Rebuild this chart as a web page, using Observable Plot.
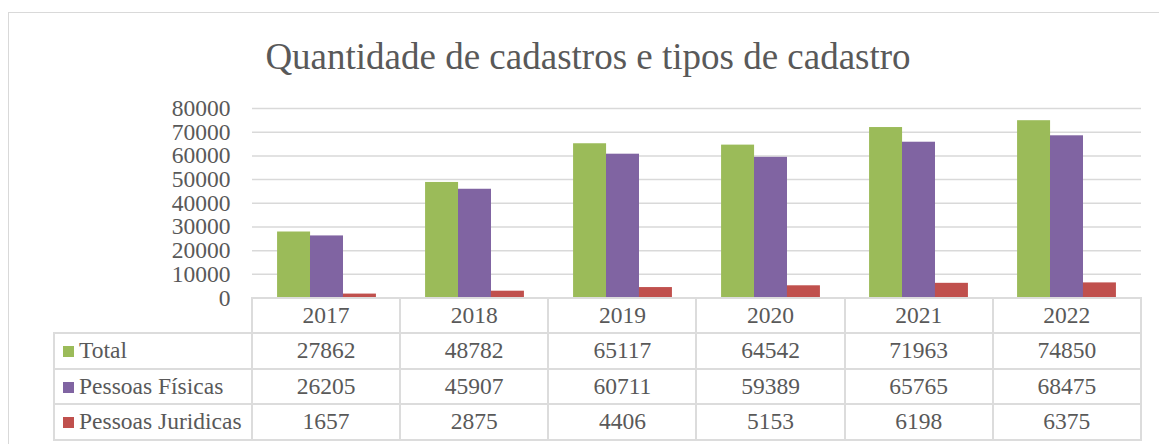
<!DOCTYPE html>
<html><head><meta charset="utf-8">
<script src="https://cdn.jsdelivr.net/npm/d3@7"></script>
<script src="https://cdn.jsdelivr.net/npm/@observablehq/plot@0.6"></script>
<style>
body{margin:0;background:#fff;}
#wrap{position:relative;width:1159px;height:444px;overflow:hidden;font-family:"Liberation Serif","Times New Roman",serif;color:#595959;}
#frame{position:absolute;left:8px;top:12px;width:1160px;height:460px;border:1px solid #d9d9d9;}
#title{position:absolute;left:8px;width:1160px;top:37.5px;line-height:37px;text-align:center;font-size:37px;white-space:nowrap;}
#chart{position:absolute;left:0;top:0;}
#tbl{position:absolute;left:53px;top:297px;border-collapse:collapse;table-layout:fixed;font-size:23.5px;color:#595959;}
#tbl td{border:2px solid #dcdcdc;text-align:center;padding:0;white-space:nowrap;line-height:1;}
#tbl td.lab{text-align:left;padding-left:8px;}
#tbl .sw{display:inline-block;width:11px;height:11px;margin-right:5px;vertical-align:1px;}
</style></head>
<body><div id="wrap"><div id="frame"></div><div id="title">Quantidade de cadastros e tipos de cadastro</div><div id="chart"></div><table id="tbl"></table></div>
<script>
const years = ["2017","2018","2019","2020","2021","2022"];
const total = [27862,48782,65117,64542,71963,74850];
const fisicas = [26205,45907,60711,59389,65765,68475];
const juridicas = [1657,2875,4406,5153,6198,6375];
const seriesNames = ["Total","Pessoas Físicas","Pessoas Juridicas"];
const seriesValues = [total, fisicas, juridicas];
const colors = ["#9BBB59","#8064A2","#C0504D"];
const yTicks = [0,10000,20000,30000,40000,50000,60000,70000,80000];

const rows = years.flatMap((yr,i)=>seriesNames.map((s,j)=>({year:yr, series:s, value:seriesValues[j][i]})));

const marginLeft = 252, marginRight = 18, width = 1159;
const bandStep = (width - marginLeft - marginRight)/years.length;
const barW = bandStep/4.5;
const pIn = 1 - barW/bandStep;

const chart = Plot.plot({
  width, height: 299,
  marginLeft, marginRight, marginTop: 108, marginBottom: 1.5,
  x: {domain: years, paddingInner: pIn, paddingOuter: pIn/2, axis: null},
  y: {domain: [0,80000], ticks: yTicks, tickSize: 0, tickPadding: 22, tickFormat: d => String(d), label: null},
  color: {domain: seriesNames, range: colors},
  style: {fontFamily: '"Liberation Serif","Times New Roman",serif', fontSize: "23.5px", color: "#595959", background: "transparent", overflow: "visible"},
  marks: [
    Plot.ruleY(yTicks, {y: d => d, stroke: "#d9d9d9", strokeWidth: 1.5}),
    ...seriesNames.map((s,j) => Plot.barY(rows.filter(r => r.series === s), {x: "year", y: "value", fill: "series", dx: (j-1)*barW, insetLeft: 0, insetRight: 0}))
  ]
});
document.getElementById("chart").appendChild(chart);

// data table
const tbl = document.getElementById("tbl");
let html = '<colgroup><col style="width:198px">' + years.map(()=>`<col style="width:${bandStep}px">`).join("") + '</colgroup>';
html += '<tr style="height:35px"><td style="border-top:none;border-left:none"></td>' + years.map(y=>`<td>${y}</td>`).join("") + '</tr>';
seriesNames.forEach((s,j)=>{
  html += `<tr style="height:35.5px"><td class="lab"><span class="sw" style="background:${colors[j]}"></span>${s}</td>` + seriesValues[j].map(v=>`<td>${v}</td>`).join("") + '</tr>';
});
tbl.innerHTML = html;
</script></body></html>
